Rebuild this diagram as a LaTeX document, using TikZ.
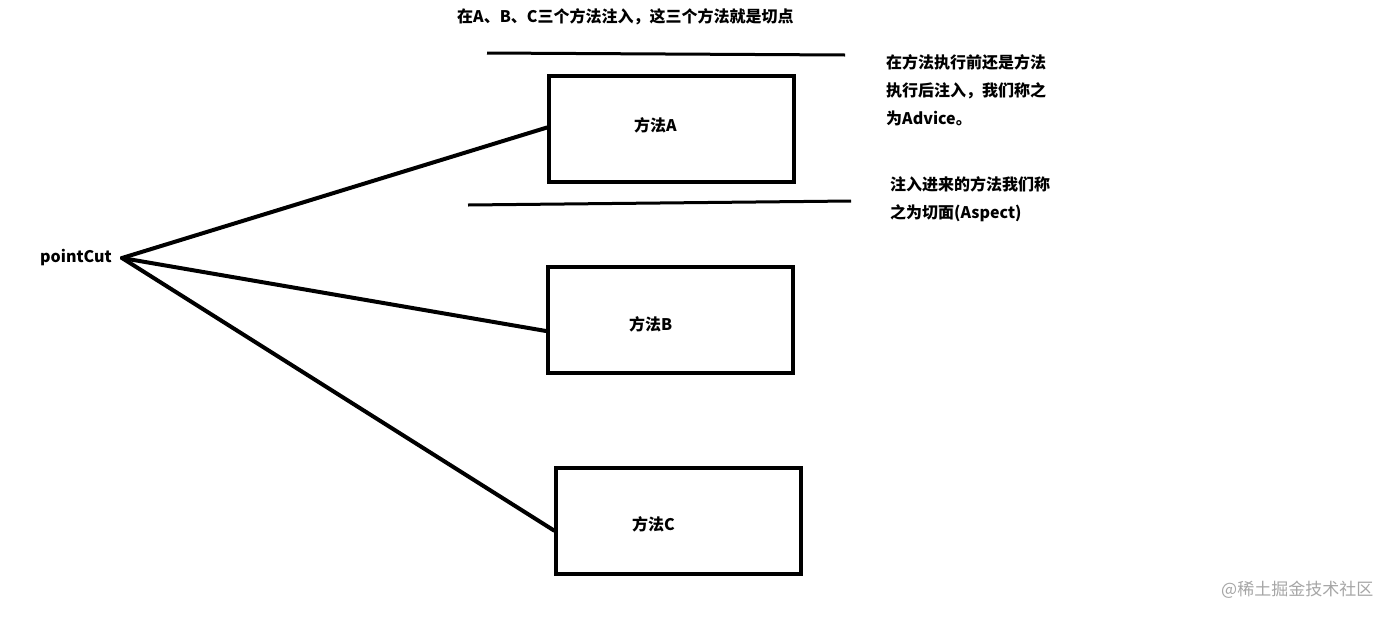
\documentclass[tikz,border=0pt]{standalone}
\usepackage{fontspec}
\setmainfont{Noto Sans CJK SC}
\begin{document}
\begin{tikzpicture}[x=1pt,y=-1pt,
  box/.style={draw=black,line width=4pt,minimum width=245pt,minimum height=106pt,inner sep=0pt},
  lbl/.style={font=\fontsize{16pt}{28pt}\selectfont\bfseries,inner sep=0pt,anchor=west},
  para/.style={lbl,align=left,anchor=north west},
  conn/.style={line width=4pt,line cap=round},
  rule/.style={line width=3pt}]
\useasboundingbox[fill=white] (0,0) rectangle (1400,619);
% boxes
\node[box] (A) at (671.5,128.5) {};
\node[box] (B) at (670.5,320) {};
\node[box] (C) at (678.5,520.5) {};
\node[lbl] (la) at (634,125) {方法A};
\node[lbl] (lb) at (629,324) {方法B};
\node[lbl] (lc) at (632,524) {方法C};
% pointCut
\node[lbl] (pc) at (40,258) {pointCut};
\coordinate (tip) at (122,258);
\draw[conn] (tip) -- ([yshift=1pt]A.west);
\draw[conn] (tip) -- ([yshift=-11pt]B.west);
\draw[conn] (tip) -- ([yshift=-10pt]C.west);
% cut lines
\draw[rule] (487,53) -- (845,55);
\draw[rule] (468,205) -- (851,201);
% texts
\node[lbl] (title) at (457,17) {在A、B、C三个方法注入，这三个方法就是切点};
\node[para] (adv) at (886,54) {在方法执行前还是方法\\执行后注入，我们称之\\为Advice。};
\node[para] (asp) at (890,176) {注入进来的方法我们称\\之为切面(Aspect)};
\node[anchor=west,inner sep=0pt,text=black!35,font=\fontsize{17pt}{18pt}\selectfont] (wm) at (1221,590) {@稀土掘金技术社区};
\end{tikzpicture}
\end{document}
